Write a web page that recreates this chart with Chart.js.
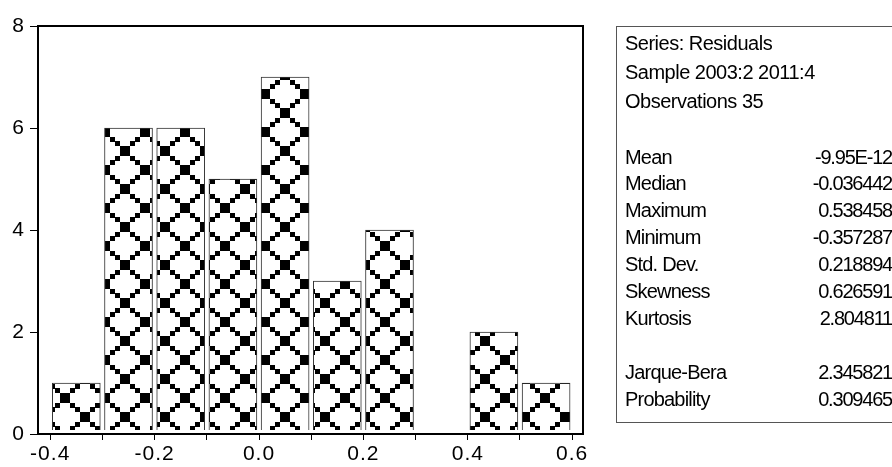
<!DOCTYPE html>
<html>
<head>
<meta charset="utf-8">
<script src="https://cdn.jsdelivr.net/npm/chart.js@4.4.1/dist/chart.umd.min.js"></script>
<style>
  html, body { margin: 0; padding: 0; background: #fff; }
  #wrap { width: 892px; height: 467px; }
</style>
</head>
<body>
<div id="wrap"><canvas id="hist" width="892" height="467"></canvas></div>
<script>
// histogram of residuals, bins of width 0.1
var binCenters = [-0.35, -0.25, -0.15, -0.05, 0.05, 0.15, 0.25, 0.35, 0.45, 0.55];
var counts = [1, 6, 6, 5, 7, 3, 4, 0, 2, 1];

var xTicks = [-0.4, -0.3, -0.2, -0.1, 0.0, 0.1, 0.2, 0.3, 0.4, 0.5, 0.6];
var xTickLabels = ['-0.4', '', '-0.2', '', '0.0', '', '0.2', '', '0.4', '', '0.6'];
var yTicks = [0, 2, 4, 6, 8];

var statsHeader = ['Series: Residuals', 'Sample 2003:2 2011:4', 'Observations 35'];
var statsLabels = ['Mean', 'Median', 'Maximum', 'Minimum', 'Std. Dev.', 'Skewness', 'Kurtosis', '', 'Jarque-Bera', 'Probability'];
var statsValues = ['-9.95E-12', '-0.036442', '0.538458', '-0.357287', '0.218894', '0.626591', '2.804811', '', '2.345821', '0.309465'];

// hatch fill like the eviews pattern brush
function makePattern(ctx) {
    var tile = document.createElement('canvas');
    tile.width = 40;
    tile.height = 38;
    var t = tile.getContext('2d');
    t.fillStyle = '#fff';
    t.fillRect(0, 0, 40, 38);
    t.fillStyle = '#000';
    // big squares
    t.fillRect(15, 14, 10, 10);
    t.fillRect(-5, -5, 10, 10);
    t.fillRect(35, -5, 10, 10);
    t.fillRect(-5, 33, 10, 10);
    t.fillRect(35, 33, 10, 10);
    // small diagonal squares
    t.fillRect(5, 5, 5, 5);   t.fillRect(10, 9, 5, 5);
    t.fillRect(30, 5, 5, 5);  t.fillRect(25, 9, 5, 5);
    t.fillRect(5, 28, 5, 5);  t.fillRect(10, 24, 5, 5);
    t.fillRect(30, 28, 5, 5); t.fillRect(25, 24, 5, 5);
    var p = ctx.createPattern(tile, 'repeat');
    p.setTransform(new DOMMatrix().translate(25, 18));
    return p;
}

var canvas = document.getElementById('hist');
var ctx = canvas.getContext('2d');
var fontFam = "'Liberation Sans', Arial, sans-serif";

var framePlugin = {
    id: 'frame',
    beforeDraw: function(chart) {
        chart.ctx.letterSpacing = '1px';
    },
    afterDraw: function(chart) {
        var c = chart.ctx;
        var a = chart.chartArea;
        c.save();
        c.strokeStyle = '#000';
        c.lineWidth = 2;
        c.beginPath();
        c.moveTo(a.left - 1, a.top);
        c.lineTo(a.right, a.top);
        c.lineTo(a.right, a.bottom);
        c.stroke();

        // stats box
        c.lineWidth = 1;
        c.strokeStyle = '#555';
        c.strokeRect(616.5, 26.5, 290, 396);
        c.fillStyle = '#000';
        c.font = '20px ' + fontFam;
        c.textBaseline = 'middle';
        c.textAlign = 'left';
        c.letterSpacing = '-0.5px';
        for (var i = 0; i < statsHeader.length; i++) {
            c.fillText(statsHeader[i], 625, 44 + i * 29);
        }
        for (var j = 0; j < statsLabels.length; j++) {
            var y = 158 + j * 26.9;
            c.textAlign = 'left';
            c.letterSpacing = '-0.8px';
            c.fillText(statsLabels[j], 625, y);
            c.textAlign = 'right';
            c.letterSpacing = '-1.2px';
            c.fillText(statsValues[j], 892, y);
        }
        c.restore();
    }
};

var data = {
    datasets: [{
        // empty bins are left blank
        data: binCenters.map(function(x, i) { return { x: x, y: counts[i] > 0 ? counts[i] : null }; }),
        backgroundColor: makePattern(ctx),
        borderColor: '#333',
        borderWidth: 1,
        barThickness: 48,
        base: 0.08
    }]
};

var options = {
    responsive: false,
    animation: false,
    layout: { padding: { left: 0, top: 26, right: 309, bottom: 0 } },
    plugins: { legend: { display: false }, tooltip: { enabled: false } },
    scales: {
        x: {
            type: 'linear',
            min: -0.4234,
            max: 0.6207,
            offset: false,
            afterBuildTicks: function(scale) {
                scale.ticks = xTicks.map(function(v) { return { value: v }; });
            },
            afterFit: function(scale) { scale.height = 33; },
            grid: { display: true, drawOnChartArea: false, offset: false, tickLength: 6, color: '#000', lineWidth: 1 },
            border: { display: true, color: '#000', width: 2 },
            ticks: {
                autoSkip: false,
                maxRotation: 0,
                padding: 2,
                color: '#000',
                font: { family: fontFam, size: 21 },
                callback: function(v, i) { return xTickLabels[i]; }
            }
        },
        y: {
            min: 0,
            max: 8,
            afterBuildTicks: function(scale) {
                scale.ticks = yTicks.map(function(v) { return { value: v }; });
            },
            afterFit: function(scale) { scale.width = 38; },
            grid: { display: true, drawOnChartArea: false, tickLength: 8, color: '#000', lineWidth: 1 },
            border: { display: true, color: '#000', width: 2 },
            ticks: {
                padding: 5,
                color: '#000',
                font: { family: fontFam, size: 21 }
            }
        }
    }
};

var config = {
    type: 'bar',
    data: data,
    options: options,
    plugins: [framePlugin]
};
var graph1 = new Chart(ctx, config);
</script>
</body>
</html>
